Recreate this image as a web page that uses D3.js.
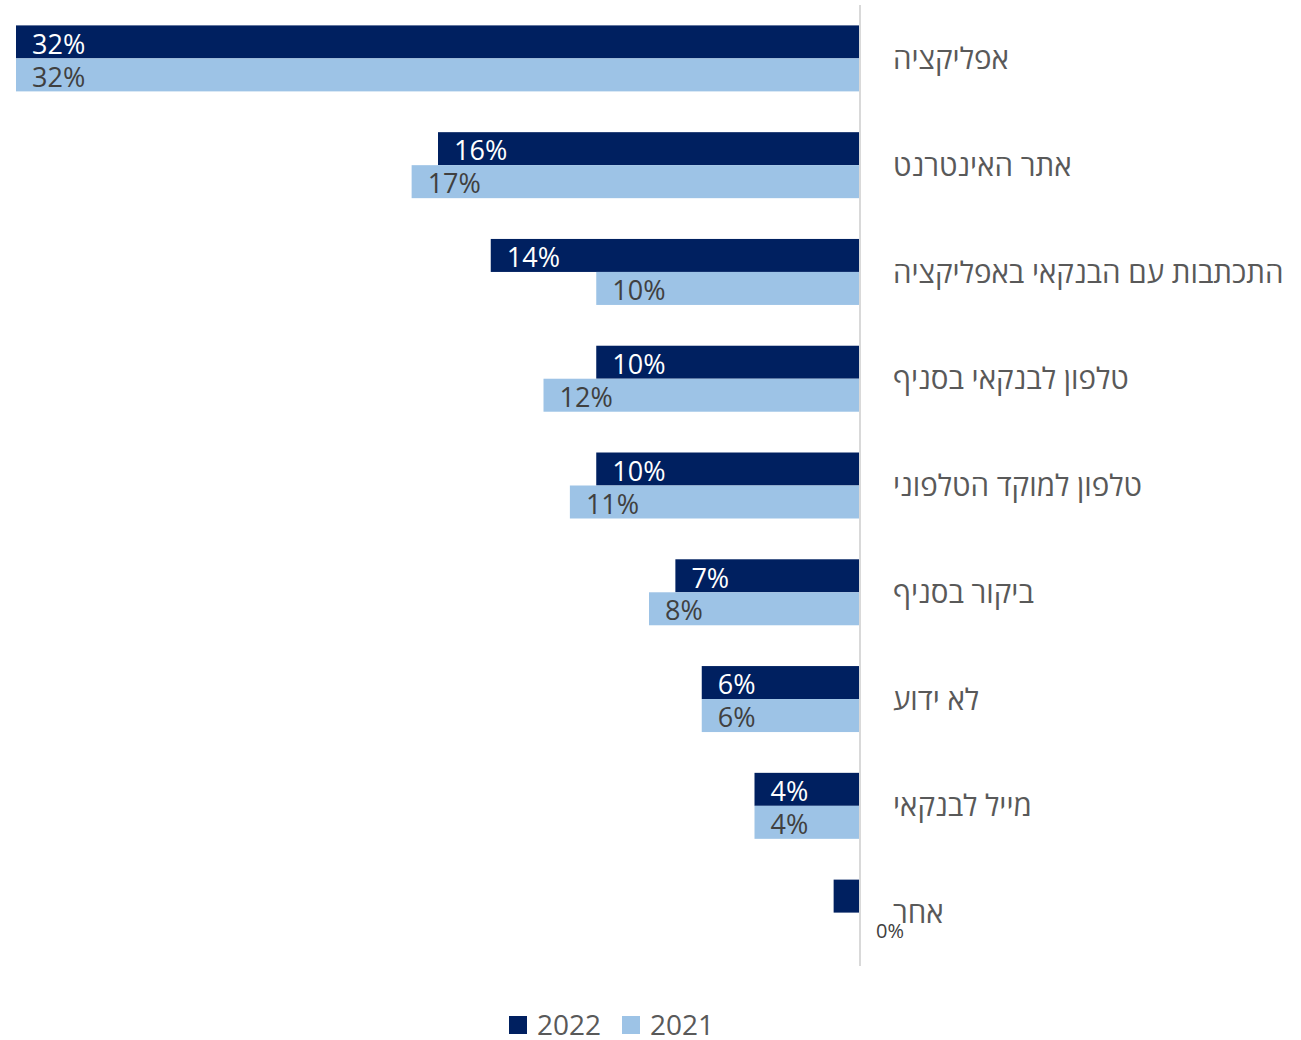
<!DOCTYPE html>
<html lang="he">
<head>
<meta charset="utf-8">
<script src="https://cdn.jsdelivr.net/npm/d3@7"></script>
<style>
  html, body { margin: 0; padding: 0; background: #fff; }
  svg { display: block; font-family: "Open Sans", "DejaVu Sans", sans-serif; }
</style>
</head>
<body>
<svg id="chart" width="1301" height="1040"></svg>
<script>
// Channels used to contact the bank, share of respondents (%)
const categories = [
  "אפליקציה",
  "אתר האינטרנט",
  "התכתבות עם הבנקאי באפליקציה",
  "טלפון לבנקאי בסניף",
  "טלפון למוקד הטלפוני",
  "ביקור בסניף",
  "לא ידוע",
  "מייל לבנקאי",
  "אחר"
];
const seriesNames = ["2022", "2021"];
const values2022 = [32, 16, 14, 10, 10, 7, 6, 4, 1];
const values2021 = [32, 17, 10, 12, 11, 8, 6, 4, 0];

const colors = { "2022": "#002060", "2021": "#9dc3e6" };
const labelColors = { "2022": "#ffffff", "2021": "#404040" };

const svg = d3.select("#chart");

const axisX = 860;
const x = d3.scaleLinear().domain([0, 32]).range([axisX, 16]);

const y = d3.scaleBand()
  .domain(categories)
  .range([5, 966])
  .paddingInner(0.382)
  .paddingOuter(0.191);

const ySub = d3.scaleBand()
  .domain(seriesNames)
  .range([0, y.bandwidth()]);

const rows = categories.map((c, i) => ({
  category: c,
  series: [
    { name: "2022", value: values2022[i] },
    { name: "2021", value: values2021[i] }
  ]
}));

const groups = svg.append("g").selectAll("g")
  .data(rows)
  .join("g")
  .attr("transform", d => `translate(0,${y(d.category)})`);

groups.selectAll("rect")
  .data(d => d.series)
  .join("rect")
  .attr("x", d => x(d.value))
  .attr("y", d => ySub(d.name))
  .attr("width", d => axisX - x(d.value))
  .attr("height", ySub.bandwidth())
  .attr("fill", d => colors[d.name]);

// Value labels inside the bars (zero values sit just past the axis)
groups.selectAll("text.val")
  .data(d => d.series.filter(s => s.value === 0 || axisX - x(s.value) > 40))
  .join("text")
  .attr("class", "val")
  .attr("x", d => d.value === 0 ? axisX + 16 : x(d.value) + 16)
  .attr("y", d => ySub(d.name) + ySub.bandwidth() / 2 + 2)
  .attr("dy", "0.36em")
  .attr("font-size", d => d.value === 0 ? 20 : 27)
  .attr("fill", d => labelColors[d.name])
  .text(d => d.value + "%");

// Vertical category axis
svg.append("line")
  .attr("x1", axisX).attr("x2", axisX)
  .attr("y1", 5).attr("y2", 966)
  .attr("stroke", "#d9d9d9")
  .attr("stroke-width", 2);

// Category labels, right of the axis
svg.append("g").selectAll("text")
  .data(categories)
  .join("text")
  .attr("x", 893)
  .attr("y", d => y(d) + y.bandwidth() / 2)
  .attr("dy", "0.36em")
  .attr("direction", "rtl")
  .attr("text-anchor", "end")
  .attr("font-size", 29.5)
  .attr("fill", "#595959")
  .text(d => d);

// Legend
const legend = svg.append("g").attr("transform", "translate(509,1016)");
const items = legend.selectAll("g")
  .data(seriesNames)
  .join("g")
  .attr("transform", (d, i) => `translate(${i * 113},0)`);
items.append("rect")
  .attr("width", 18).attr("height", 18)
  .attr("fill", d => colors[d]);
items.append("text")
  .attr("x", 28).attr("y", 9)
  .attr("dy", "0.36em")
  .attr("font-size", 28)
  .attr("fill", "#595959")
  .text(d => d);
</script>
</body>
</html>
